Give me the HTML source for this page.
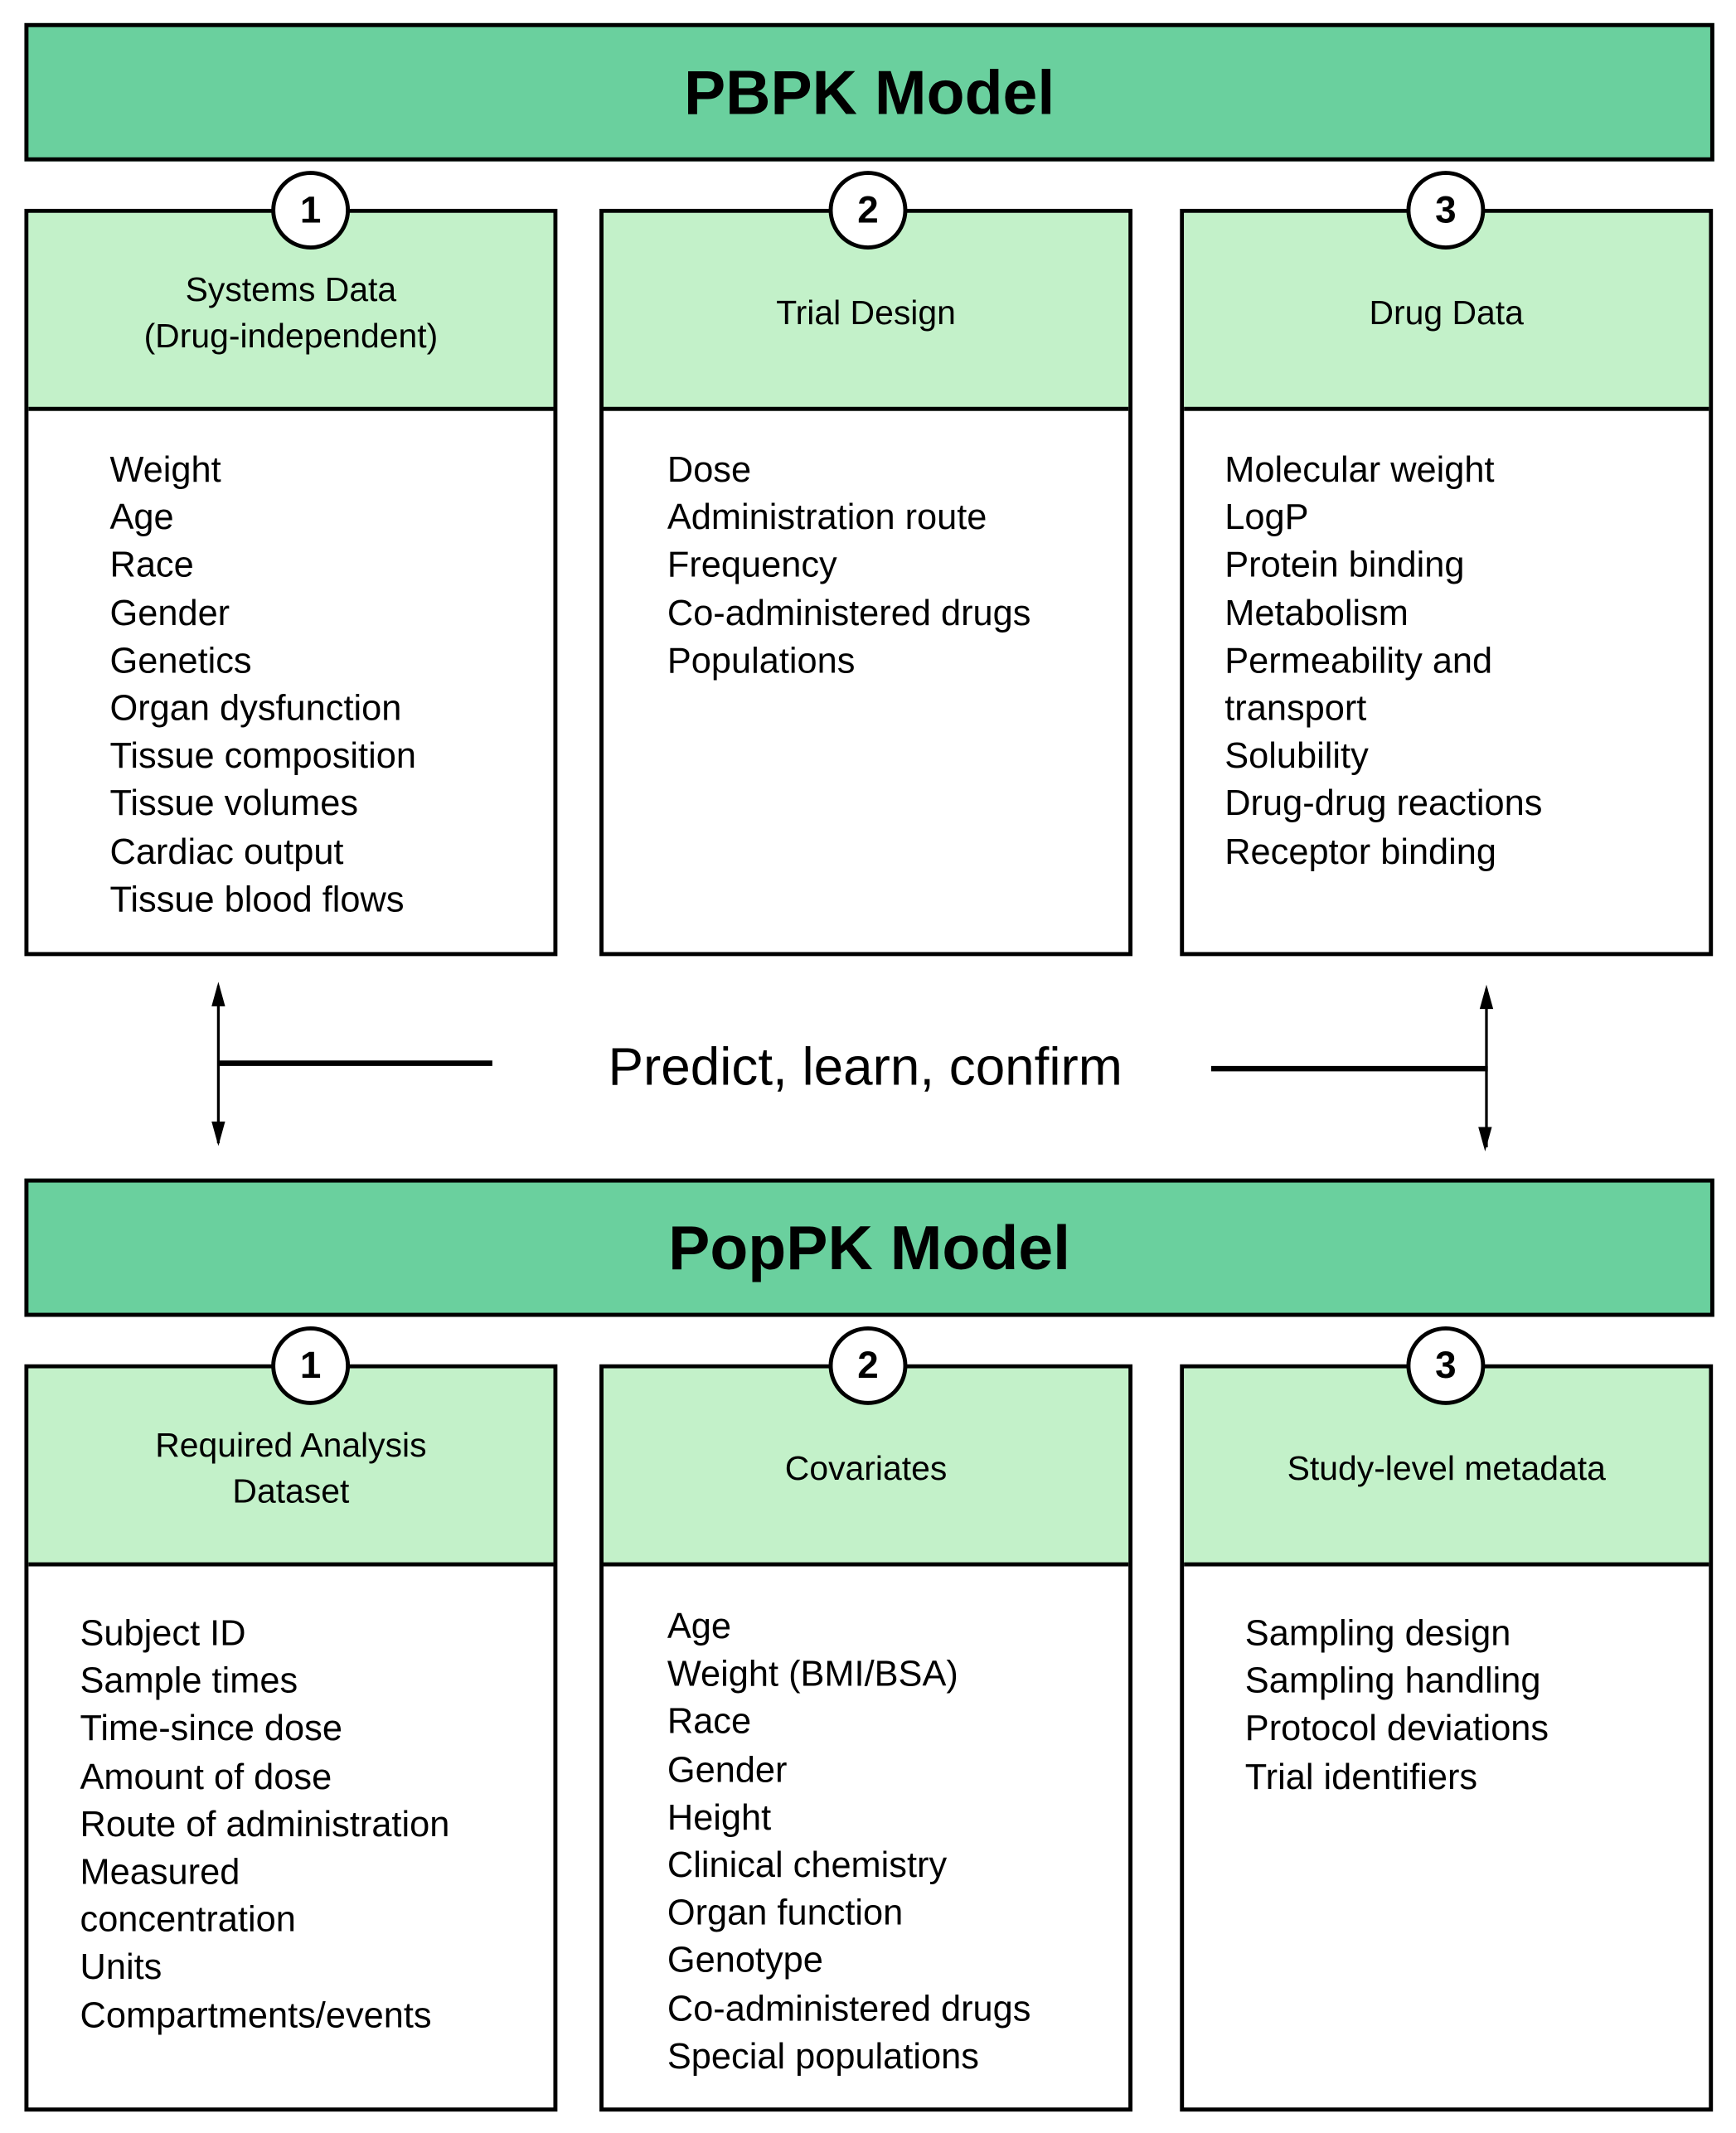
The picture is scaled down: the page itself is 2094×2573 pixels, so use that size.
<!DOCTYPE html>
<html><head><meta charset="utf-8"><style>
html,body{margin:0;padding:0;background:#fff;}
body{width:2094px;height:2573px;overflow:hidden;position:relative;}
#s{position:absolute;left:0;top:0;width:1280px;height:1573px;transform:scale(1.63594);transform-origin:0 0;font-family:"Liberation Sans",sans-serif;color:#000;}
.ban{position:absolute;left:18px;width:1240px;height:96px;background:#6ad09e;border:3px solid #000;box-sizing:content-box;text-align:center;font-weight:bold;font-size:46px;line-height:96px;}
.box{position:absolute;width:387px;height:545px;border:3px solid #000;background:#fff;}
.hd{position:absolute;left:0;top:0;width:100%;height:146px;background:#c3f1c9;border-bottom:3px solid #000;display:flex;align-items:center;justify-content:center;text-align:center;font-size:25px;line-height:34px;padding-top:4px;box-sizing:border-box;}
.cir{position:absolute;width:52px;height:52px;border:3px solid #000;border-radius:50%;background:#fff;font-weight:bold;font-size:28px;line-height:52px;text-align:center;}
.ls{position:absolute;font-size:26.5px;line-height:35.2px;white-space:nowrap;}
</style></head><body><div id="s">
<div class="ban" style="top:17px;">PBPK Model</div>
<div class="ban" style="top:869px;">PopPK Model</div>

<div class="box" style="left:18px;top:154px;"><div class="hd">Systems Data<br>(Drug-independent)</div></div>
<div class="box" style="left:442px;top:154px;"><div class="hd">Trial Design</div></div>
<div class="box" style="left:870px;top:154px;"><div class="hd">Drug Data</div></div>
<div class="box" style="left:18px;top:1006px;"><div class="hd">Required Analysis<br>Dataset</div></div>
<div class="box" style="left:442px;top:1006px;"><div class="hd">Covariates</div></div>
<div class="box" style="left:870px;top:1006px;"><div class="hd">Study-level metadata</div></div>

<div class="cir" style="left:200px;top:126px;">1</div>
<div class="cir" style="left:611px;top:126px;">2</div>
<div class="cir" style="left:1037px;top:126px;">3</div>
<div class="cir" style="left:200px;top:978px;">1</div>
<div class="cir" style="left:611px;top:978px;">2</div>
<div class="cir" style="left:1037px;top:978px;">3</div>

<div class="ls" style="left:81px;top:329px;">Weight<br>Age<br>Race<br>Gender<br>Genetics<br>Organ dysfunction<br>Tissue composition<br>Tissue volumes<br>Cardiac output<br>Tissue blood flows</div>
<div class="ls" style="left:492px;top:329px;">Dose<br>Administration route<br>Frequency<br>Co-administered drugs<br>Populations</div>
<div class="ls" style="left:903px;top:329px;">Molecular weight<br>LogP<br>Protein binding<br>Metabolism<br>Permeability and<br>transport<br>Solubility<br>Drug-drug reactions<br>Receptor binding</div>
<div class="ls" style="left:59px;top:1187px;">Subject ID<br>Sample times<br>Time-since dose<br>Amount of dose<br>Route of administration<br>Measured<br>concentration<br>Units<br>Compartments/events</div>
<div class="ls" style="left:492px;top:1182px;">Age<br>Weight (BMI/BSA)<br>Race<br>Gender<br>Height<br>Clinical chemistry<br>Organ function<br>Genotype<br>Co-administered drugs<br>Special populations</div>
<div class="ls" style="left:918px;top:1187px;">Sampling design<br>Sampling handling<br>Protocol deviations<br>Trial identifiers</div>

<svg style="position:absolute;left:0;top:0" width="1280" height="1573">
<defs><marker id="a" markerWidth="10" markerHeight="10" refX="5" refY="9" orient="auto-start-reverse" markerUnits="userSpaceOnUse"><path d="M1,10 L5,0 L9,10 Z" fill="#000" transform="rotate(180 5 5)"/></marker></defs>
<line x1="161" y1="727" x2="161" y2="843" stroke="#000" stroke-width="2"/>
<path d="M161,724 L156,742 L166,742 Z M161,845 L156,827 L166,827 Z" fill="#000"/>
<line x1="161" y1="784" x2="363" y2="784" stroke="#000" stroke-width="4"/>
<line x1="1096" y1="729" x2="1096" y2="846" stroke="#000" stroke-width="2"/>
<path d="M1096,726 L1091,744 L1101,744 Z M1095,849 L1090,831 L1100,831 Z" fill="#000"/>
<line x1="893" y1="788" x2="1097" y2="788" stroke="#000" stroke-width="4"/>
<text x="638" y="800" text-anchor="middle" font-family="Liberation Sans, sans-serif" font-size="39">Predict, learn, confirm</text>
</svg>
</div></body></html>
